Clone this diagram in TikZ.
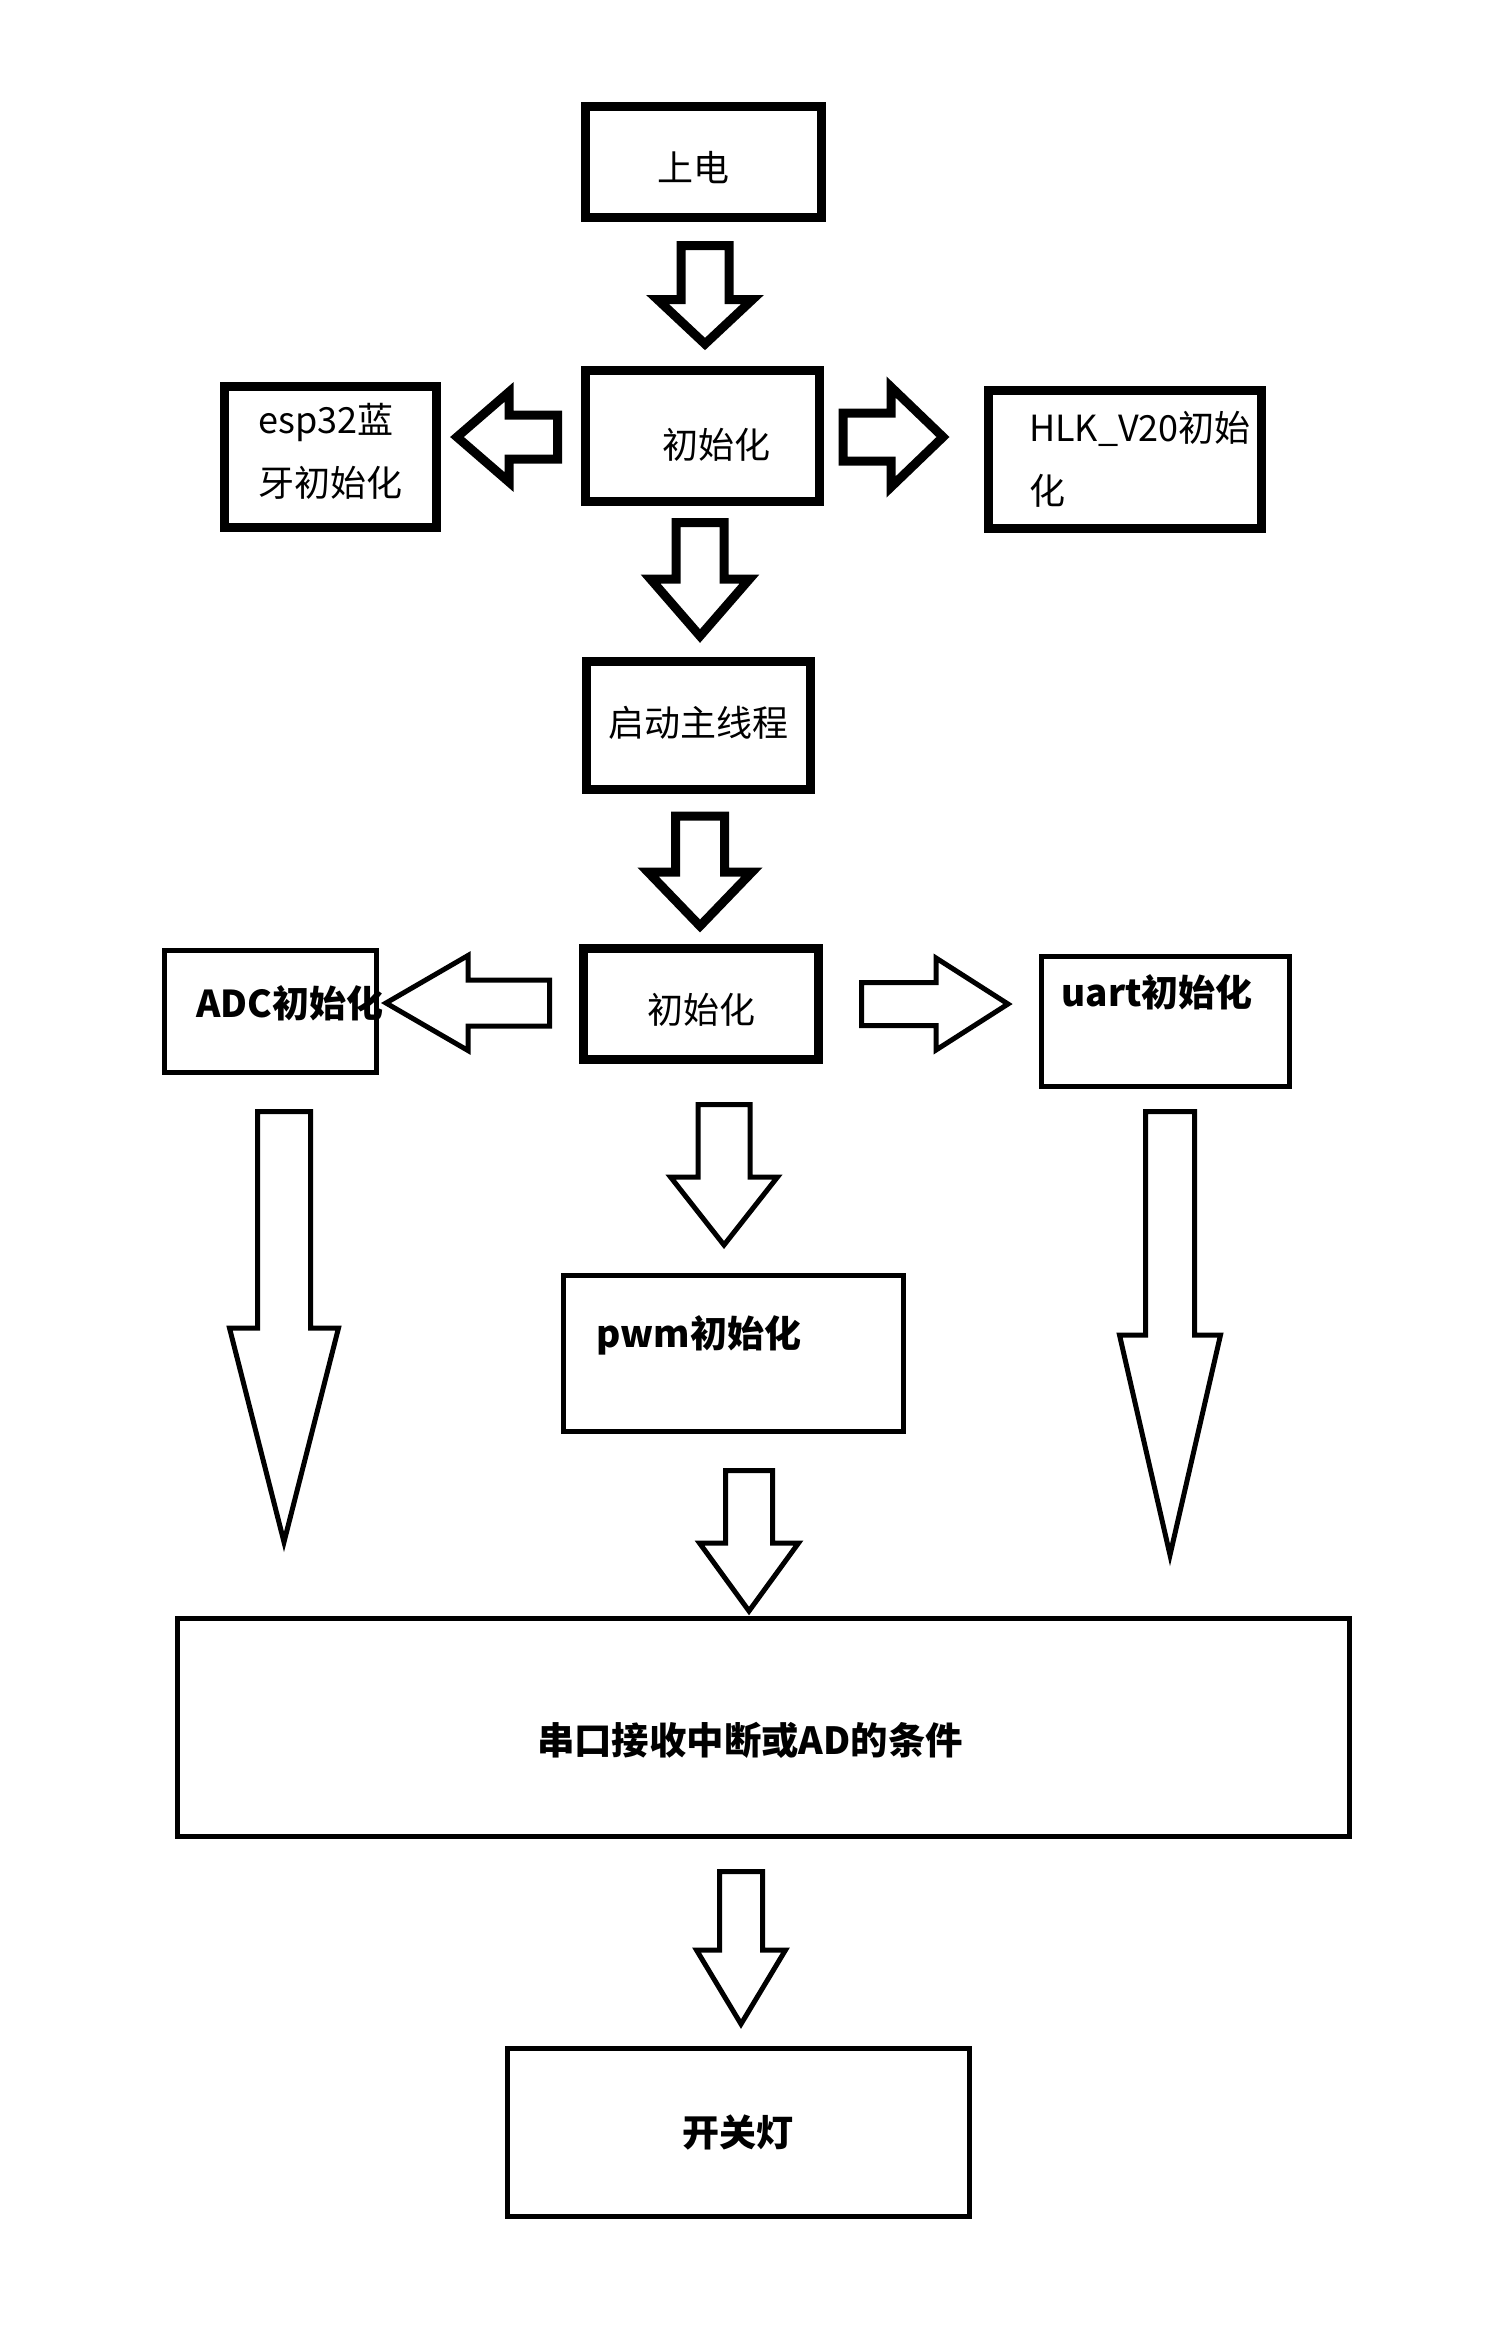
\documentclass[tikz,border=0pt]{standalone}
\usepackage{fontspec}
\setmainfont{Noto Sans CJK SC}
\usetikzlibrary{calc}

\newcommand{\blockarrow}[6][]{%
  \coordinate (ba-h) at ($(#3)!#6!(#2)$);
  \draw[#1] ($(#2)!#4!90:(#3)$) -- ($(ba-h)!#4!-90:(#2)$) -- ($(ba-h)!#5!-90:(#2)$) -- (#3)
    -- ($(ba-h)!#5!90:(#2)$) -- ($(ba-h)!#4!90:(#2)$) -- ($(#2)!#4!-90:(#3)$) -- cycle;
}
\newcommand{\nudge}[2]{\raisebox{#1}[\height][\depth]{#2}}

\begin{document}
\begin{tikzpicture}[
    x=0.5pt, y=-0.5pt,
    box/.style={draw, line width=4.5pt, inner sep=0pt, align=center, font=\fontsize{18}{31.5}\selectfont},
    tbox/.style={draw, line width=2.5pt, inner sep=0pt, align=center, font=\bfseries\fontsize{18.5}{24}\selectfont},
    lbl/.style={inner sep=0pt, font=\bfseries\fontsize{18.5}{24}\selectfont},
    fat/.style={line width=4.5pt},
    slim/.style={line width=2.5pt}
  ]
  \fill[white] (0,0) rectangle (1500,2328);

  \node[box, minimum width=118pt, minimum height=55.5pt] (power) at (703.5,162) {\nudge{-3pt}{上电}\hspace*{10pt}};
  \node[box, minimum width=117pt, minimum height=65.5pt] (init1) at (702.5,436) {\hspace*{13.5pt}\nudge{-4.5pt}{初始化}};
  \node[box, minimum width=106pt, minimum height=70.5pt, align=left] (esp) at (330.5,457) {\nudge{3pt}{esp32蓝}\\\nudge{3pt}{牙初始化}};
  \node[box, minimum width=136.5pt, minimum height=69pt, text width=96pt, align=left] (hlk) at (1125,459.5) {HLK\_V20初始\\化};
  \node[box, minimum width=112pt, minimum height=64pt] (thread) at (698.5,725.5) {\nudge{1.5pt}{启动主线程}};
  \node[box, minimum width=117.5pt, minimum height=55.5pt] (init2) at (701,1004) {\nudge{-3pt}{初始化}};

  \node[tbox, minimum width=106pt, minimum height=61pt] (adc) at (270.5,1011) {};
  \node[lbl, anchor=west] (adcl) at (196,1003) {ADC初始化};
  \node[tbox, minimum width=124pt, minimum height=65pt] (uart) at (1165.5,1021) {};
  \node[lbl, anchor=west] (uartl) at (1061,992) {uart初始化};
  \node[tbox, minimum width=170pt, minimum height=78pt] (pwm) at (733,1353.5) {};
  \node[lbl, anchor=west] (pwml) at (596,1335) {pwm初始化};
  \node[tbox, minimum width=586pt, minimum height=109pt] (cond) at (763.5,1727) {};
  \node[lbl, font=\bfseries\fontsize{18.7}{24}\selectfont] (condl) at (750,1740) {串口接收中断或AD的条件};
  \node[tbox, minimum width=231pt, minimum height=84pt] (light) at (738,2132) {开关灯};

  \coordinate (s1) at (705,245.5);   \coordinate (e1) at (705,344);
  \coordinate (s2) at (700,522.5);   \coordinate (e2) at (700,636);
  \coordinate (s3) at (700,816);     \coordinate (e3) at (700,926);
  \coordinate (s4) at (557.5,437);   \coordinate (e4) at (457,437);
  \coordinate (s5) at (843,437);     \coordinate (e5) at (943,437);
  \coordinate (s6) at (549.5,1003);  \coordinate (e6) at (386,1003);
  \coordinate (s7) at (861.5,1004);  \coordinate (e7) at (1008,1004);
  \coordinate (s8) at (284,1111.5);  \coordinate (e8) at (284,1542);
  \coordinate (s9) at (724,1104.5);  \coordinate (e9) at (724,1245);
  \coordinate (s10) at (1170,1111.5); \coordinate (e10) at (1170,1555);
  \coordinate (s11) at (749,1470.5); \coordinate (e11) at (749,1611);
  \coordinate (s12) at (741,1871.5); \coordinate (e12) at (741,2024);

  \blockarrow[fat]{s1}{e1}{12pt}{23.75pt}{22.25pt}
  \blockarrow[fat]{s2}{e2}{12pt}{24.75pt}{28.5pt}
  \blockarrow[fat]{s3}{e3}{12.25pt}{26pt}{27pt}
  \blockarrow[fat]{s4}{e4}{11pt}{22.5pt}{26pt}
  \blockarrow[fat]{s5}{e5}{12pt}{25pt}{26pt}
  \blockarrow[slim]{s6}{e6}{11.5pt}{23.75pt}{41pt}
  \blockarrow[slim]{s7}{e7}{10.75pt}{23pt}{36pt}
  \blockarrow[slim]{s8}{e8}{13.25pt}{27.25pt}{107pt}
  \blockarrow[slim]{s9}{e9}{13pt}{26.75pt}{34pt}
  \blockarrow[slim]{s10}{e10}{12.25pt}{25.25pt}{110pt}
  \blockarrow[slim]{s11}{e11}{11.75pt}{24.75pt}{34pt}
  \blockarrow[slim]{s12}{e12}{10.75pt}{22.25pt}{37pt}
\end{tikzpicture}
\end{document}
